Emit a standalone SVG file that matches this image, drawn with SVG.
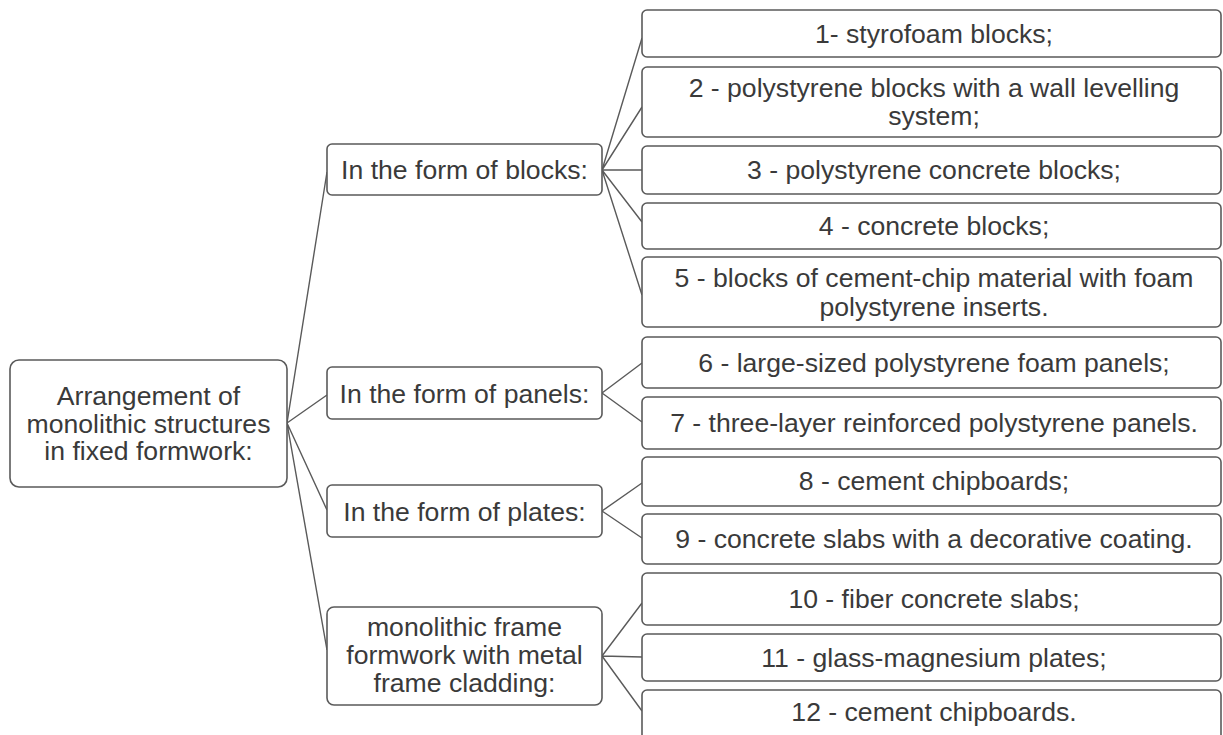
<svg xmlns="http://www.w3.org/2000/svg" width="1223" height="735" viewBox="0 0 1223 735">
<style>
.box{fill:#fff;stroke:#5a5a5a;stroke-width:1.6}
.t{font-family:"Liberation Sans",Arial,sans-serif;font-size:26.6px;fill:#3a3a3a;text-anchor:middle}
.c{fill:none;stroke:#5a5a5a;stroke-width:1.4}
</style>
<rect width="1223" height="735" fill="#fff"/>
<g id="connectors">
<path class="c" d="M287 423 L327 172 M287 423 L327 395 M287 423 L327 510 M287 423 L327 650"/>
<path class="c" d="M602 170 L642 38 M602 170 L642 107 M602 170 L642 170 M602 170 L642 222 M602 170 L642 295"/>
<path class="c" d="M602 393 L642 363 M602 393 L642 422"/>
<path class="c" d="M602 511 L642 483 M602 511 L642 538"/>
<path class="c" d="M602 656 L642 603 M602 656 L642 657 M602 656 L642 711"/>
</g>
<g id="root">
<rect class="box" x="10" y="360" width="277" height="127" rx="9"/>
<text class="t" x="148.5" y="405">Arrangement of</text>
<text class="t" x="148.5" y="432.5">monolithic structures</text>
<text class="t" x="148.5" y="460">in fixed formwork:</text>
</g>
<g id="blocks">
<rect class="box" x="327" y="144" width="275" height="51" rx="5"/>
<text class="t" x="464.5" y="178.5">In the form of blocks:</text>
</g>
<g id="panels">
<rect class="box" x="327" y="367" width="275" height="52" rx="5"/>
<text class="t" x="464.5" y="402.5">In the form of panels:</text>
</g>
<g id="plates">
<rect class="box" x="327" y="485" width="275" height="52" rx="5"/>
<text class="t" x="464.5" y="520.5">In the form of plates:</text>
</g>
<g id="frame">
<rect class="box" x="327" y="607" width="275" height="98" rx="7"/>
<text class="t" x="464.5" y="636">monolithic frame</text>
<text class="t" x="464.5" y="664">formwork with metal</text>
<text class="t" x="464.5" y="692">frame cladding:</text>
</g>
<g id="item1">
<rect class="box" x="642" y="10" width="579" height="47" rx="5"/>
<text class="t" x="934" y="43">1- styrofoam blocks;</text>
</g>
<g id="item2">
<rect class="box" x="642" y="67" width="579" height="70" rx="5"/>
<text class="t" x="934" y="97">2 - polystyrene blocks with a wall levelling</text>
<text class="t" x="934" y="125">system;</text>
</g>
<g id="item3">
<rect class="box" x="642" y="146" width="579" height="48" rx="5"/>
<text class="t" x="934" y="179">3 - polystyrene concrete blocks;</text>
</g>
<g id="item4">
<rect class="box" x="642" y="203" width="579" height="46" rx="5"/>
<text class="t" x="934" y="235">4 - concrete blocks;</text>
</g>
<g id="item5">
<rect class="box" x="642" y="257" width="579" height="70" rx="5"/>
<text class="t" x="934" y="287">5 - blocks of cement-chip material with foam</text>
<text class="t" x="934" y="316">polystyrene inserts.</text>
</g>
<g id="item6">
<rect class="box" x="642" y="337" width="579" height="51" rx="5"/>
<text class="t" x="934" y="371.5">6 - large-sized polystyrene foam panels;</text>
</g>
<g id="item7">
<rect class="box" x="642" y="397" width="579" height="52" rx="5"/>
<text class="t" x="934" y="432">7 - three-layer reinforced polystyrene panels.</text>
</g>
<g id="item8">
<rect class="box" x="642" y="457" width="579" height="49" rx="5"/>
<text class="t" x="934" y="489.5">8 - cement chipboards;</text>
</g>
<g id="item9">
<rect class="box" x="642" y="514" width="579" height="50" rx="5"/>
<text class="t" x="934" y="548">9 - concrete slabs with a decorative coating.</text>
</g>
<g id="item10">
<rect class="box" x="642" y="573" width="579" height="52" rx="5"/>
<text class="t" x="934" y="608">10 - fiber concrete slabs;</text>
</g>
<g id="item11">
<rect class="box" x="642" y="634" width="579" height="47" rx="5"/>
<text class="t" x="934" y="666.5">11 - glass-magnesium plates;</text>
</g>
<g id="item12">
<rect class="box" x="642" y="690" width="579" height="60" rx="5"/>
<text class="t" x="934" y="720.5">12 - cement chipboards.</text>
</g>
</svg>
